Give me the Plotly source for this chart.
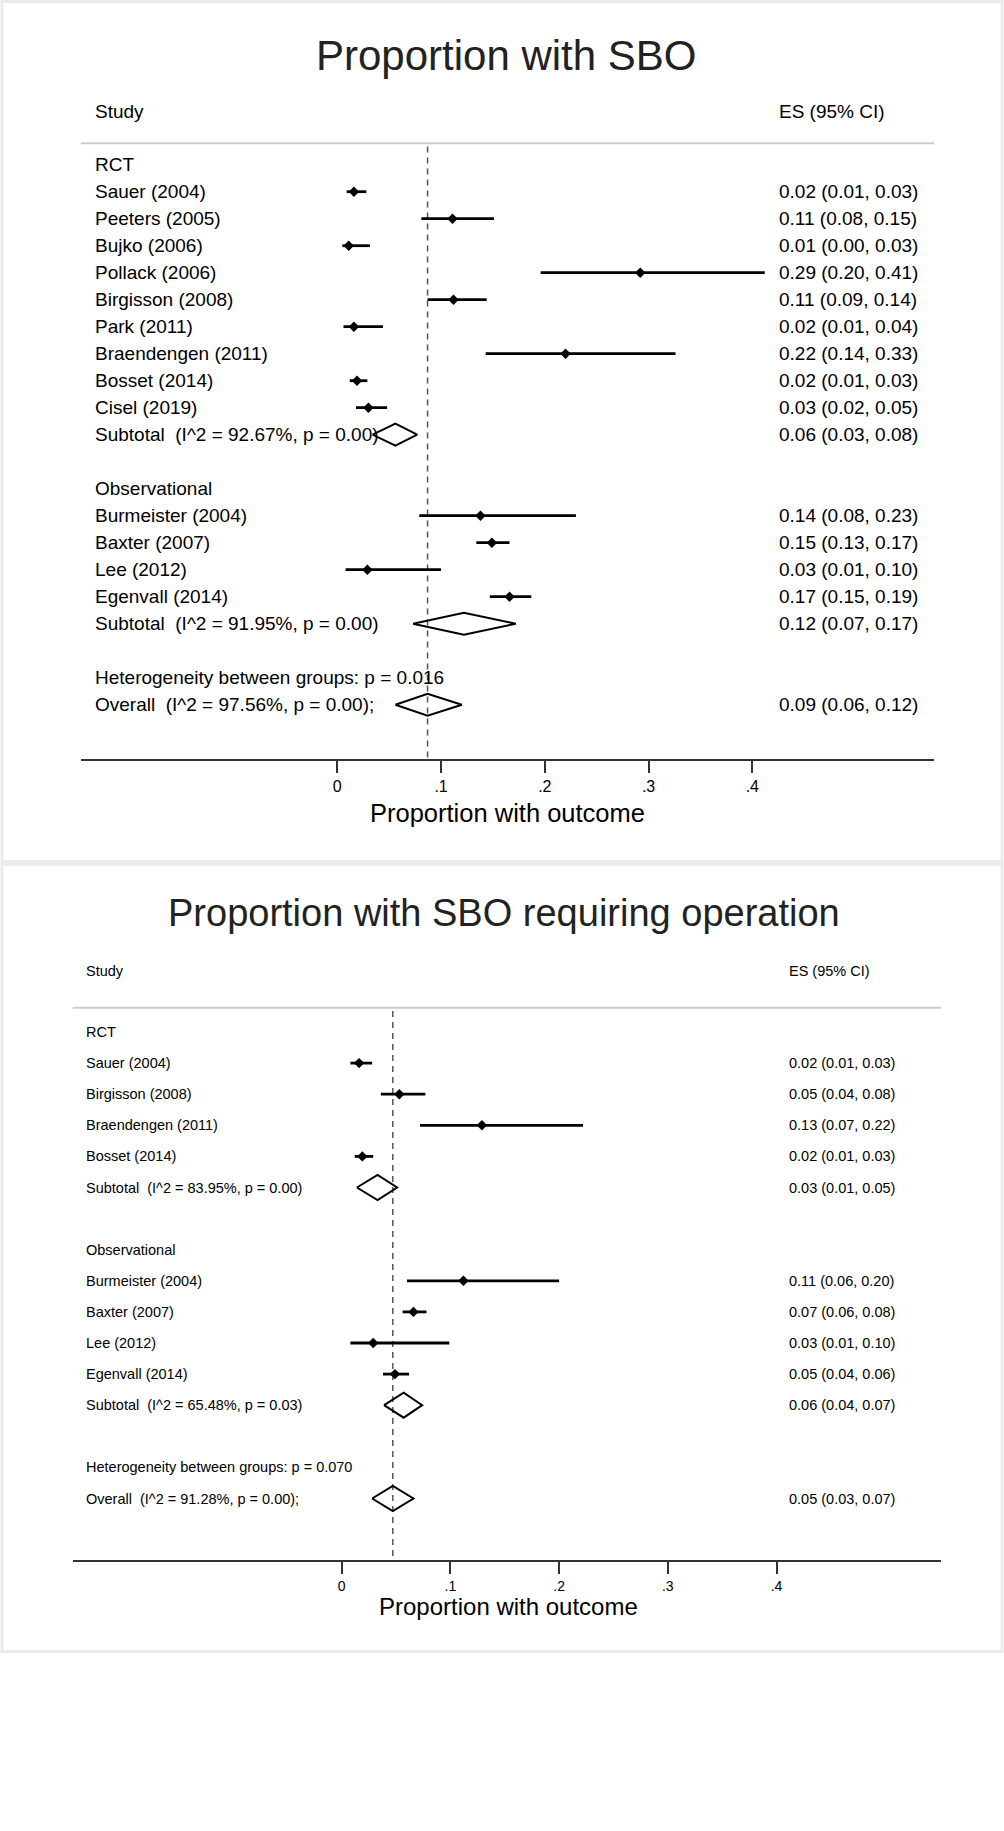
import plotly.graph_objects as go

W, H = 1004, 1831
FONT = "Liberation Sans, Arial, Helvetica, sans-serif"

# ---------------- Data: Panel A (Proportion with SBO) ----------------
a_title = "Proportion with SBO"
a_rct_studies = ["Sauer (2004)", "Peeters (2005)", "Bujko (2006)", "Pollack (2006)",
                 "Birgisson (2008)", "Park (2011)", "Braendengen (2011)", "Bosset (2014)",
                 "Cisel (2019)"]
a_rct_es = [0.016, 0.111, 0.011, 0.292, 0.112, 0.016, 0.220, 0.019, 0.030]
a_rct_lo = [0.009, 0.081, 0.0048, 0.196, 0.087, 0.006, 0.143, 0.012, 0.018]
a_rct_hi = [0.028, 0.151, 0.0315, 0.412, 0.144, 0.044, 0.326, 0.029, 0.048]
a_rct_sub = [0.056, 0.034, 0.077]
a_rct_i2, a_rct_p = 92.67, 0.00

a_obs_studies = ["Burmeister (2004)", "Baxter (2007)", "Lee (2012)", "Egenvall (2014)"]
a_obs_es = [0.138, 0.149, 0.029, 0.166]
a_obs_lo = [0.079, 0.134, 0.008, 0.147]
a_obs_hi = [0.230, 0.166, 0.100, 0.187]
a_obs_sub = [0.122, 0.073, 0.172]
a_obs_i2, a_obs_p = 91.95, 0.00

a_overall = [0.087, 0.056, 0.120]
a_overall_i2, a_overall_p = 97.56, 0.00
a_het_p = "0.016"

# ---------------- Data: Panel B (SBO requiring operation) ----------------
b_title = "Proportion with SBO requiring operation"
b_rct_studies = ["Sauer (2004)", "Birgisson (2008)", "Braendengen (2011)", "Bosset (2014)"]
b_rct_es = [0.016, 0.053, 0.129, 0.019]
b_rct_lo = [0.008, 0.036, 0.072, 0.012]
b_rct_hi = [0.028, 0.077, 0.222, 0.029]
b_rct_sub = [0.033, 0.014, 0.051]
b_rct_i2, b_rct_p = 83.95, 0.00

b_obs_studies = ["Burmeister (2004)", "Baxter (2007)", "Lee (2012)", "Egenvall (2014)"]
b_obs_es = [0.112, 0.066, 0.029, 0.049]
b_obs_lo = [0.060, 0.056, 0.008, 0.038]
b_obs_hi = [0.200, 0.078, 0.099, 0.062]
b_obs_sub = [0.057, 0.039, 0.074]
b_obs_i2, b_obs_p = 65.48, 0.03

b_overall = [0.047, 0.028, 0.066]
b_overall_i2, b_overall_p = 91.28, 0.00
b_het_p = "0.070"

group_names = ["RCT", "Observational"]
tick_vals = [0, 0.1, 0.2, 0.3, 0.4]
tick_text = ["0", ".1", ".2", ".3", ".4"]
axis_title = "Proportion with outcome"
col_study = "Study"
col_es = "ES (95% CI)"

fig = go.Figure()
annotations = []
shapes = []


def fmt(es, lo, hi):
    return f"{es:.2f} ({lo:.2f}, {hi:.2f})"


def build_panel(k, title, groups, overall, ov_i2, ov_p, het_p, g):
    xa = "x" if k == 1 else f"x{k}"
    ya = "y" if k == 1 else f"y{k}"
    fs = g["fs"]
    rows = []  # (kind, label, es, lo, hi)
    for gname, studies, es, lo, hi, sub, i2, p in groups:
        rows.append(("head", gname, None, None, None))
        for s, e, l, h in zip(studies, es, lo, hi):
            rows.append(("study", s, e, l, h))
        rows.append(("sub", f"Subtotal\u00a0 (I^2 = {i2:.2f}%, p = {p:.2f})", *sub))
        rows.append(("blank", "", None, None, None))
    rows.append(("head", f"Heterogeneity between groups: p = {het_p}", None, None, None))
    rows.append(("sub", f"Overall\u00a0 (I^2 = {ov_i2:.2f}%, p = {ov_p:.2f});", *overall))

    sx, sy, slo, shi = [], [], [], []
    dx, dy = [], []
    hh = g["dia_h"]
    for r, (kind, label, e, l, h) in enumerate(rows):
        if label:
            annotations.append(dict(x=g["lab_x"], y=r, xref=xa, yref=ya, text=label,
                                    showarrow=False, xanchor="left", yanchor="middle",
                                    font=dict(size=fs, color="#000", family=FONT)))
        if kind == "study":
            sx.append(e); sy.append(r); slo.append(e - l); shi.append(h - e)
        if kind == "sub":
            dx += [l, e, h, e, l, None]
            dy += [r, r - hh, r, r + hh, r, None]
        if e is not None:
            annotations.append(dict(x=g["es_x"], y=r, xref=xa, yref=ya, text=fmt(e, l, h),
                                    showarrow=False, xanchor="left", yanchor="middle",
                                    font=dict(size=fs, color="#000", family=FONT)))

    # dashed overall line
    fig.add_trace(go.Scatter(x=[overall[0], overall[0]], y=[g["dash_top"], g["axis_r"]],
                             mode="lines", line=dict(color="#555", width=1.5, dash="6px,5px"),
                             xaxis=xa, yaxis=ya, hoverinfo="skip", showlegend=False))
    # study estimates with CI
    fig.add_trace(go.Scatter(x=sx, y=sy, mode="markers",
                             marker=dict(symbol="diamond", size=g["msize"], color="#000"),
                             error_x=dict(type="data", symmetric=False, array=shi, arrayminus=slo,
                                          thickness=g["ci_w"], width=0, color="#000"),
                             xaxis=xa, yaxis=ya, showlegend=False))
    # pooled diamonds
    fig.add_trace(go.Scatter(x=dx, y=dy, mode="lines", line=dict(color="#000", width=2),
                             xaxis=xa, yaxis=ya, showlegend=False, hoverinfo="skip"))

    # headers
    for txt, xx in ((col_study, g["lab_x"]), (col_es, g["es_x"])):
        annotations.append(dict(x=xx, y=g["head_r"], xref=xa, yref=ya, text=txt,
                                showarrow=False, xanchor="left", yanchor="middle",
                                font=dict(size=fs, color="#000", family=FONT)))
    # header separator
    shapes.append(dict(type="line", xref=f"{xa} domain", yref=ya, x0=0, x1=1,
                       y0=g["sep_r"], y1=g["sep_r"], line=dict(color="#cccccc", width=2)))
    # title
    annotations.append(dict(x=g["title_x"] / W, y=1 - g["title_y"] / H, xref="paper", yref="paper",
                            text=title, showarrow=False, xanchor="center", yanchor="middle",
                            font=dict(size=g["title_fs"], color="#222", family=FONT)))
    # axis title
    annotations.append(dict(x=g["axt_x"] / W, y=1 - g["axt_y"] / H, xref="paper", yref="paper",
                            text=axis_title, showarrow=False, xanchor="center", yanchor="middle",
                            font=dict(size=g["axt_fs"], color="#000", family=FONT)))
    # panel frame
    shapes.append(dict(type="rect", xref="paper", yref="paper", x0=2 / W, x1=1002 / W,
                       y0=1 - g["frame"][1] / H, y1=1 - g["frame"][0] / H,
                       line=dict(color="#ebebeb", width=3), fillcolor="rgba(0,0,0,0)", layer="below"))


# geometry (pixel layout)
gA = dict(fs=19, title_fs=42, axt_fs=25.5, row0=164.7, step=27.0, zero_px=337.3, px_per=1037.5,
          ax_l=80.7, ax_r=934.3, axis_y=760, lab_px=93, es_px=777.3, head_y=111.7, sep_y=143.3,
          dash_y=146.5, title_x=506.5, title_y=55, axt_x=507, axt_y=813, tick_fs=16,
          msize=8, ci_w=2.8, dia_px=11, frame=(1.5, 861.5))
gB = dict(fs=14.5, title_fs=38, axt_fs=24, row0=1032.0, step=31.1, zero_px=341.7, px_per=1087.0,
          ax_l=72.7, ax_r=941.0, axis_y=1561.3, lab_px=84, es_px=787, head_y=971, sep_y=1007.7,
          dash_y=1011, title_x=504, title_y=913, axt_x=508, axt_y=1606, tick_fs=14,
          msize=8, ci_w=2.8, dia_px=12.5, frame=(864.5, 1651.5))

for g in (gA, gB):
    toval = lambda p, g=g: (p - g["zero_px"]) / g["px_per"]
    torow = lambda p, g=g: (p - g["row0"]) / g["step"]
    g["xrange"] = [toval(g["ax_l"]), toval(g["ax_r"])]
    g["yrange"] = [torow(H), torow(0)]
    g["lab_x"] = toval(g["lab_px"])
    g["es_x"] = toval(g["es_px"])
    g["head_r"] = torow(g["head_y"])
    g["sep_r"] = torow(g["sep_y"])
    g["dash_top"] = torow(g["dash_y"])
    g["axis_r"] = torow(g["axis_y"])
    g["dia_h"] = g["dia_px"] / g["step"]

build_panel(1, a_title,
            [(group_names[0], a_rct_studies, a_rct_es, a_rct_lo, a_rct_hi, a_rct_sub, a_rct_i2, a_rct_p),
             (group_names[1], a_obs_studies, a_obs_es, a_obs_lo, a_obs_hi, a_obs_sub, a_obs_i2, a_obs_p)],
            a_overall, a_overall_i2, a_overall_p, a_het_p, gA)
build_panel(2, b_title,
            [(group_names[0], b_rct_studies, b_rct_es, b_rct_lo, b_rct_hi, b_rct_sub, b_rct_i2, b_rct_p),
             (group_names[1], b_obs_studies, b_obs_es, b_obs_lo, b_obs_hi, b_obs_sub, b_obs_i2, b_obs_p)],
            b_overall, b_overall_i2, b_overall_p, b_het_p, gB)


def xaxis_cfg(g):
    return dict(domain=[g["ax_l"] / W, g["ax_r"] / W], range=g["xrange"], autorange=False,
                anchor="free", position=1 - g["axis_y"] / H,
                showline=True, linecolor="#333", linewidth=2, showgrid=False, zeroline=False,
                ticks="outside", ticklen=12, tickwidth=2, tickcolor="#333",
                tickvals=tick_vals, ticktext=tick_text,
                tickfont=dict(size=g["tick_fs"], color="#000", family=FONT), fixedrange=True)


def yaxis_cfg(g, anchor):
    return dict(domain=[0, 1], range=g["yrange"], autorange=False, visible=False,
                anchor=anchor, fixedrange=True)


fig.update_layout(
    width=W, height=H, margin=dict(l=0, r=0, t=0, b=0),
    paper_bgcolor="white", plot_bgcolor="rgba(0,0,0,0)",
    xaxis=xaxis_cfg(gA), yaxis=yaxis_cfg(gA, "x"),
    xaxis2=xaxis_cfg(gB), yaxis2=yaxis_cfg(gB, "x2"),
    annotations=annotations, shapes=shapes, showlegend=False,
    font=dict(family=FONT),
)

fig.write_html("out.html", config={"displayModeBar": False},
               post_script="document.body.style.margin='0';document.body.style.overflow='hidden';")
